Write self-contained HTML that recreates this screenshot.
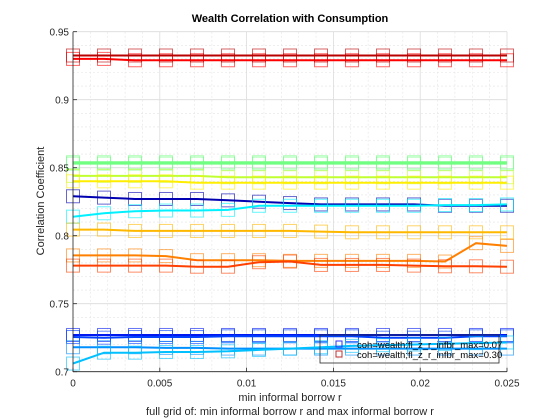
<!DOCTYPE html>
<html><head><meta charset="utf-8"><style>
body{margin:0;background:#fff;}
svg{display:block;font-family:"Liberation Sans",Arial,sans-serif;}
</style></head><body>
<svg id="chart" width="560" height="420">
<rect width="560" height="420" fill="#fff"/>
<g id="grid"></g>
<g id="series"></g>
<g id="axes"></g>
<text x="290" y="22" text-anchor="middle" font-size="11" font-weight="bold" fill="#000">Wealth Correlation with Consumption</text>
<text x="290" y="401" text-anchor="middle" font-size="11" fill="#262626">min informal borrow r</text>
<text x="290" y="415" text-anchor="middle" font-size="11" fill="#262626">full grid of: min informal borrow r and max informal borrow r</text>
<text transform="translate(44,201) rotate(-90)" text-anchor="middle" font-size="11" fill="#262626">Correlation Coefficient</text>
<g>
<rect x="320" y="335" width="179" height="28" fill="none" stroke="#262626" stroke-width="0.8"/>
<rect x="336" y="341" width="6" height="6" fill="none" stroke="#3030ff"/>
<text x="357" y="348" font-size="9.5" fill="#000">coh=wealth;fl_z_r_infbr_max=0.07</text>
<rect x="336" y="351" width="6" height="6" fill="none" stroke="#c03030"/>
<text x="357" y="358" font-size="9.5" fill="#000">coh=wealth;fl_z_r_infbr_max=0.30</text>
</g>
</svg>
<script>
const xValues = [0,0.001786,0.003571,0.005357,0.007143,0.008929,0.010714,0.0125,0.014286,0.016071,0.017857,0.019643,0.021429,0.023214,0.025];
const xTicks = [0,0.005,0.01,0.015,0.02,0.025];
const xTickLabels = ["0","0.005","0.01","0.015","0.02","0.025"];
const yTicks = [0.7,0.75,0.8,0.85,0.9,0.95];
const yTickLabels = ["0.7","0.75","0.8","0.85","0.9","0.95"];
const seriesColors = ["#0000b0","#0018f0","#0040ff","#0090ff","#00c0ff","#00f0ff","#70ff80","#c0ff30","#ffee00","#ffb800","#ff8000","#ff4000","#ff0000","#b80000"];
const sDarkBlue = [0.829,0.828,0.827,0.827,0.827,0.826,0.825,0.824,0.823,0.823,0.823,0.823,0.822,0.822,0.822];
const sBlue1 = [0.727,0.727,0.727,0.727,0.727,0.727,0.727,0.727,0.727,0.727,0.727,0.727,0.727,0.727,0.727];
const sBlue2 = [0.7255,0.725,0.7255,0.7255,0.7255,0.726,0.726,0.726,0.726,0.726,0.725,0.725,0.725,0.726,0.726];
const sLightBlue = [0.718,0.718,0.718,0.7175,0.7175,0.717,0.717,0.717,0.717,0.717,0.717,0.717,0.717,0.717,0.717];
const sSkyBlue = [0.706,0.714,0.714,0.7145,0.7145,0.715,0.716,0.717,0.718,0.719,0.7195,0.72,0.7205,0.721,0.7215];
const sCyan = [0.814,0.8165,0.818,0.8185,0.8185,0.819,0.822,0.822,0.822,0.822,0.822,0.822,0.8225,0.8225,0.823];
const sGreen1 = [0.854,0.854,0.854,0.854,0.854,0.854,0.854,0.854,0.854,0.854,0.854,0.854,0.854,0.854,0.854];
const sGreen2 = [0.853,0.853,0.853,0.853,0.853,0.853,0.853,0.853,0.853,0.853,0.853,0.853,0.853,0.853,0.853];
const sYellowGreen = [0.844,0.844,0.844,0.844,0.844,0.843,0.843,0.843,0.843,0.843,0.843,0.843,0.843,0.843,0.843];
const sYellow = [0.840,0.840,0.840,0.840,0.839,0.839,0.839,0.839,0.839,0.839,0.839,0.839,0.839,0.839,0.839];
const sGold = [0.8045,0.8045,0.8035,0.8035,0.8035,0.8035,0.8035,0.8035,0.803,0.8025,0.8025,0.8025,0.8025,0.8025,0.8025];
const sOrange = [0.7855,0.7855,0.7855,0.785,0.782,0.782,0.782,0.7815,0.7815,0.7815,0.7815,0.7815,0.781,0.7945,0.7925];
const sRedOrange = [0.778,0.778,0.778,0.778,0.7772,0.7772,0.7805,0.781,0.7785,0.7785,0.7785,0.778,0.7775,0.7775,0.7772];
const sRed = [0.930,0.930,0.929,0.929,0.929,0.929,0.929,0.929,0.929,0.929,0.929,0.929,0.929,0.929,0.929];
const sDarkRed = [0.9325,0.9325,0.9325,0.9325,0.9325,0.9325,0.9325,0.9325,0.9325,0.9325,0.9325,0.9325,0.9325,0.9325,0.9325];
const seriesList = [sBlue1,sBlue2,sLightBlue,sSkyBlue,sDarkBlue,sCyan,sGreen1,sGreen2,sYellowGreen,sYellow,sGold,sOrange,sRedOrange,sRed,sDarkRed];
const seriesColorIdx = [1,2,3,4,0,5,6,6,7,8,9,10,11,12,13];

const L=73,R=507,T=31.7,B=371.7,xMin=0,xMax=0.025,yMin=0.7,yMax=0.95;
const NS="http://www.w3.org/2000/svg";
function xs(v){return L+(v-xMin)/(xMax-xMin)*(R-L);}
function ys(v){return B-(v-yMin)/(yMax-yMin)*(B-T);}
function mk(tag,attrs,parent){const e=document.createElementNS(NS,tag);for(const k in attrs)e.setAttribute(k,attrs[k]);parent.appendChild(e);return e;}
const grid=document.getElementById('grid'),axes=document.getElementById('axes'),ser=document.getElementById('series');
for(let i=0;i<=25;i++){const v=i*0.001;if(i%5===0)continue;const l=mk('line',{x1:xs(v),x2:xs(v),y1:T,y2:B,stroke:'#e4e4e4','stroke-dasharray':'2,2','stroke-width':0.6},grid);

}
for(let i=0;i<=25;i++){const v=0.7+i*0.01;if(i%5===0)continue;const l=mk('line',{x1:L,x2:R,y1:ys(v),y2:ys(v),stroke:'#e4e4e4','stroke-dasharray':'2,2','stroke-width':0.6},grid);

}
xTicks.forEach((v,i)=>{const l=mk('line',{x1:xs(v),x2:xs(v),y1:T,y2:B,stroke:'#dcdcdc','stroke-width':0.8},grid);


const t=mk('text',{x:xs(v),y:B+15,'text-anchor':'middle','font-size':10,fill:'#262626'},axes);t.textContent=xTickLabels[i];


const tk=mk('line',{x1:xs(v),x2:xs(v),y1:B,y2:B-4,stroke:'#262626','stroke-width':0.8},axes);

});
yTicks.forEach((v,i)=>{const l=mk('line',{x1:L,x2:R,y1:ys(v),y2:ys(v),stroke:'#dcdcdc','stroke-width':0.8},grid);


const t=mk('text',{x:L-4,y:ys(v)+4,'text-anchor':'end','font-size':10,fill:'#262626'},axes);t.textContent=yTickLabels[i];


const tk=mk('line',{x1:L,x2:L+4,y1:ys(v),y2:ys(v),stroke:'#262626','stroke-width':0.8},axes);

});
const ax1=mk('line',{x1:L,x2:L,y1:T,y2:B,stroke:'#262626','stroke-width':0.8},axes);


const ax2=mk('line',{x1:L,x2:R,y1:B,y2:B,stroke:'#262626','stroke-width':0.8},axes);


seriesList.forEach((s,si)=>{const c=seriesColors[seriesColorIdx[si]];
const pts=s.map((v,i)=>xs(xValues[i]).toFixed(1)+','+ys(v).toFixed(1)).join(' ');
const pl=mk('polyline',{points:pts,fill:'none',stroke:c,'stroke-width':2},ser);


s.forEach((v,i)=>{const r=mk('rect',{x:xs(xValues[i])-6.5,y:ys(v)-6.5,width:13,height:13,fill:'none',stroke:c,'stroke-opacity':0.6,'stroke-width':1},ser);

});});
</script>
</body></html>
